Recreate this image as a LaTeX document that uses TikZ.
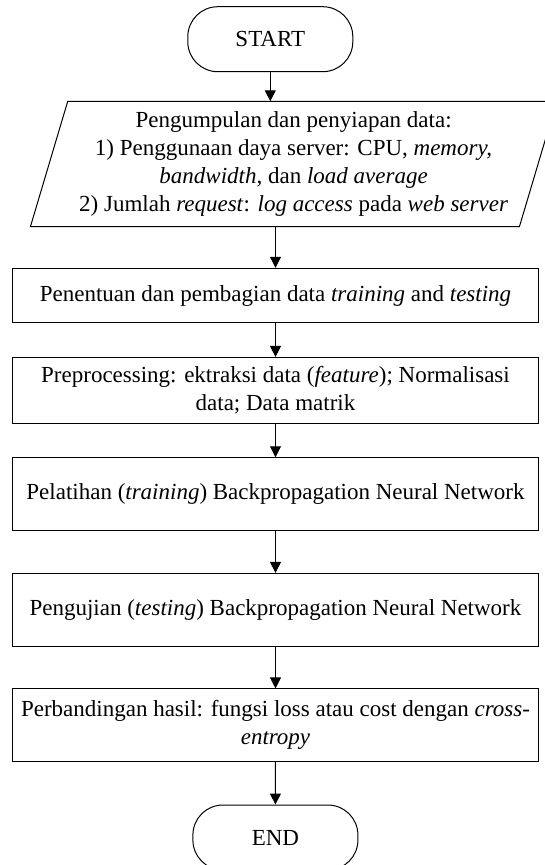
\documentclass[tikz,border=0pt]{standalone}
\usepackage{fontspec}
\setmainfont{Liberation Serif}[ItalicFont={Liberation Serif Italic}]
\usetikzlibrary{arrows.meta}

\begin{document}
\begin{tikzpicture}[x=1pt,y=-1pt,line width=1pt,
    every node/.style={font=\fontsize{23}{28}\selectfont,align=center,inner sep=0pt},
    terminal/.style={draw,rounded corners=30pt,minimum width=165pt,minimum height=65pt},
    proses/.style={draw,minimum width=526.4pt},
    arus/.style={-{Triangle[length=11pt,width=11pt]}}]
    \useasboundingbox(0,0)rectangle(545,865);
    \node[terminal](start)at(270.3,39.2){START};
    \node[minimum width=488pt,minimum height=124.3pt](data)at(293.6,163.9){Pengumpulan dan penyiapan data:\\1) Penggunaan daya server: CPU, \textit{memory,}\\\textit{bandwidth,} dan \textit{load average}\\2) Jumlah \textit{request}: \textit{log access} pada \textit{web server}};
    \draw([xshift=18.65pt]data.north west)--([xshift=18.65pt]data.north east)--([xshift=-18.65pt]data.south east)--([xshift=-18.65pt]data.south west)--cycle;
    \node[proses,minimum height=54.4pt](bagi)at(275.5,295.5){Penentuan dan pembagian data \textit{training} and \textit{testing}};
    \node[proses,minimum height=66pt](prepro)at(275.5,390.4){Preprocessing: ektraksi data (\textit{feature}); Normalisasi\\data; Data matrik};
    \node[proses,minimum height=72.3pt](latih)at(275.5,493.9){Pelatihan (\textit{training}) Backpropagation Neural Network};
    \node[proses,minimum height=72.7pt](uji)at(275.5,609.7){Pengujian (\textit{testing}) Backpropagation Neural Network};
    \node[proses,minimum height=72.7pt](banding)at(275.5,725.3){Perbandingan hasil: fungsi loss atau cost dengan \textit{cross-}\\\textit{entropy}};
    \node[terminal](end)at(275.4,837.5){END};
    \draw[arus](start.south)--(start.south|-data.north);
    \draw[arus](bagi.north|-data.south)--(bagi.north);
    \draw[arus](bagi)--(prepro);
    \draw[arus](prepro)--(latih);
    \draw[arus](latih)--(uji);
    \draw[arus](uji)--(banding);
    \draw[arus](banding)--(end);
\end{tikzpicture}
\end{document}
